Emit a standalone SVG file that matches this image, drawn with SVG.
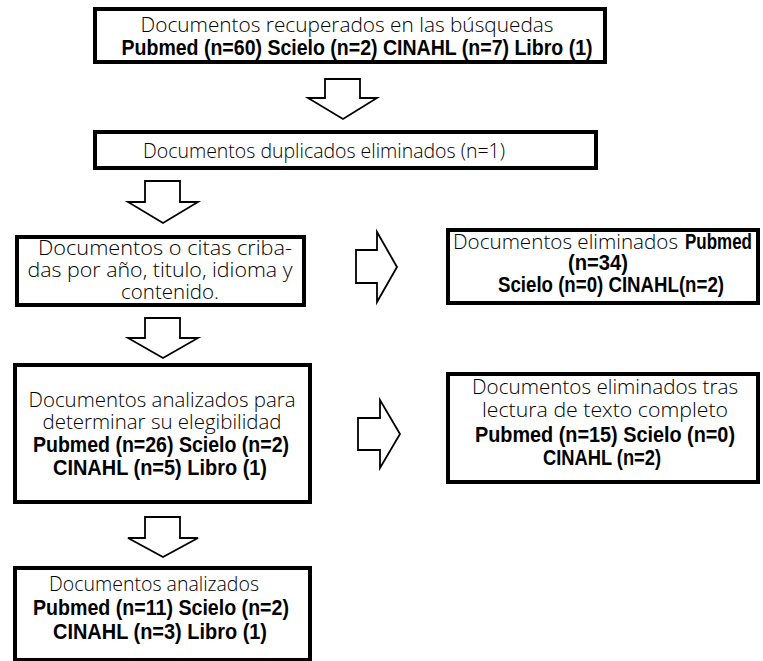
<svg xmlns="http://www.w3.org/2000/svg" width="763" height="661" viewBox="0 0 763 661">
<style>
.box{fill:#fff;stroke:#000;stroke-width:4}
.arr{fill:#fff;stroke:#000;stroke-width:1.8;stroke-linejoin:miter}
.r{font-family:"Open Sans","Liberation Sans",sans-serif;font-weight:300;font-size:20.5px;fill:#000;text-anchor:middle}
.b{font-family:"Liberation Sans","Arial",sans-serif;font-weight:bold;font-size:22px;fill:#000;text-anchor:middle}
</style>
<rect width="763" height="661" fill="#fff"/>
<g id="connectors">
<polygon class="arr" points="325,79 360,79 360,98 377,98 343,119 308,98 325,98"/>
<polygon class="arr" points="145,181 180,181 180,202 198,202 163,223 128,202 145,202"/>
<polygon class="arr" points="145,318 180,318 180,338 198,338 163,358 128,338 145,338"/>
<polygon class="arr" points="145,517 180,517 180,538 198,538 163,557 128,538 145,538"/>
<polygon class="arr" points="356,250 377,250 377,232 397,267 377,302 377,283 356,283"/>
<polygon class="arr" points="358,418 380,418 380,400 400,434 380,468 380,450 358,450"/>
</g>
<g id="n1">
<rect class="box" x="95" y="9" width="510" height="53"/>
<text class="r" x="347" y="32" textLength="413" lengthAdjust="spacingAndGlyphs">Documentos recuperados en las búsquedas</text>
<text class="b" x="357" y="55" textLength="471" lengthAdjust="spacingAndGlyphs">Pubmed (n=60) Scielo (n=2) CINAHL (n=7) Libro (1)</text>
</g>
<g id="n2">
<rect class="box" x="95" y="132" width="501" height="36"/>
<text class="r" x="324" y="158" textLength="362" lengthAdjust="spacingAndGlyphs">Documentos duplicados eliminados (n=1)</text>
</g>
<g id="n3">
<rect class="box" x="17" y="237" width="287" height="68"/>
<text class="r" x="165" y="255" textLength="254" lengthAdjust="spacingAndGlyphs">Documentos o citas criba-</text>
<text class="r" x="160" y="277" textLength="265" lengthAdjust="spacingAndGlyphs">das por año, titulo, idioma y</text>
<text class="r" x="170" y="299">contenido.</text>
</g>
<g id="n4">
<rect class="box" x="448" y="230" width="310" height="73"/>
<text class="r" x="678" y="249" style="text-anchor:end" textLength="225" lengthAdjust="spacingAndGlyphs">Documentos eliminados</text>
<text class="b" x="685" y="249" style="text-anchor:start" textLength="67" lengthAdjust="spacingAndGlyphs">Pubmed</text>
<text class="b" x="598" y="270" textLength="60" lengthAdjust="spacingAndGlyphs">(n=34)</text>
<text class="b" x="611" y="292" textLength="226" lengthAdjust="spacingAndGlyphs">Scielo (n=0) CINAHL(n=2)</text>
</g>
<g id="n5">
<rect class="box" x="15" y="365" width="295" height="137"/>
<text class="r" x="162" y="407" textLength="267" lengthAdjust="spacingAndGlyphs">Documentos analizados para</text>
<text class="r" x="162" y="429" textLength="239" lengthAdjust="spacingAndGlyphs">determinar su elegibilidad</text>
<text class="b" x="161" y="452" textLength="256" lengthAdjust="spacingAndGlyphs">Pubmed (n=26) Scielo (n=2)</text>
<text class="b" x="160" y="475" textLength="214" lengthAdjust="spacingAndGlyphs">CINAHL (n=5) Libro (1)</text>
</g>
<g id="n6">
<rect class="box" x="448" y="374" width="310" height="108"/>
<text class="r" x="605" y="394" textLength="266" lengthAdjust="spacingAndGlyphs">Documentos eliminados tras</text>
<text class="r" x="605" y="417" textLength="246" lengthAdjust="spacingAndGlyphs">lectura de texto completo</text>
<text class="b" x="605" y="442" textLength="260" lengthAdjust="spacingAndGlyphs">Pubmed (n=15) Scielo (n=0)</text>
<text class="b" x="602" y="465" textLength="118" lengthAdjust="spacingAndGlyphs">CINAHL (n=2)</text>
</g>
<g id="n7">
<rect class="box" x="15" y="568" width="295" height="92"/>
<text class="r" x="154" y="591" textLength="210" lengthAdjust="spacingAndGlyphs">Documentos analizados</text>
<text class="b" x="161" y="615" textLength="256" lengthAdjust="spacingAndGlyphs">Pubmed (n=11) Scielo (n=2)</text>
<text class="b" x="160" y="639" textLength="214" lengthAdjust="spacingAndGlyphs">CINAHL (n=3) Libro (1)</text>
</g>
</svg>
